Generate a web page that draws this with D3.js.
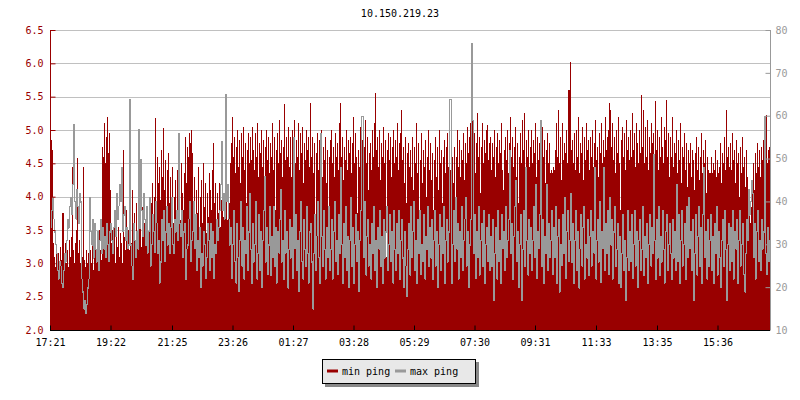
<!DOCTYPE html>
<html>
<head>
<meta charset="utf-8">
<script src="https://cdn.jsdelivr.net/npm/d3@7"></script>
<style>
  body { margin: 0; background: #fff; }
  svg text { font-family: "DejaVu Sans Mono", monospace; font-size: 10px; }
</style>
</head>
<body>
<div id="chart"></div>
<script>
// ping samples, one every 2 minutes starting at 17:21
const title = "10.150.219.23";
const startTime = "17:21";
const stepMinutes = 2;
const spanMinutes = 1440;

const xTickLabels = ["17:21", "19:22", "21:25", "23:26", "01:27", "03:28", "05:29", "07:30", "09:31", "11:33", "13:35", "15:36"];
const leftTicks = [2.0, 2.5, 3.0, 3.5, 4.0, 4.5, 5.0, 5.5, 6.0, 6.5];
const rightTicks = [10, 20, 30, 40, 50, 60, 70, 80];
const seriesNames = ["min ping", "max ping"];

// min ping (ms, left axis)
const minPing = [
  4.85, 4.85, 4.7, 3.3, 3.1, 2.95, 3.2, 3.0, 3.15, 2.9, 3.25, 3.05, 3.75, 3.75, 3.1, 3.3, 3.0, 3.2, 2.95, 3.35,
  3.1, 3.4, 4.45, 3.2, 3.0, 3.3, 3.5, 4.58, 3.15, 3.35, 3.0, 3.2, 3.1, 4.45, 3.05, 2.95, 3.2, 3.0, 3.15, 2.9,
  3.2, 3.0, 3.35, 2.9, 3.1, 3.45, 3.0, 3.3, 3.15, 3.5, 3.2, 3.05, 4.75, 4.6, 5.1, 4.5, 4.9, 5.2, 4.65, 4.95,
  4.1, 3.3, 3.5, 3.15, 3.6, 3.0, 3.4, 3.25, 3.55, 3.1, 3.45, 3.3, 3.0, 4.7, 3.4, 3.2, 3.8, 3.35, 3.5, 3.2,
  3.6, 3.3, 4.1, 3.5, 3.75, 3.2, 3.9, 3.45, 3.3, 3.7, 3.55, 3.25, 3.85, 3.4, 3.6, 3.3, 3.5, 3.85, 3.35, 3.65,
  3.5, 3.9, 4.2, 3.7, 4.0, 5.18, 3.9, 4.6, 4.2, 4.45, 3.95, 4.7, 4.3, 5.03, 4.1, 4.55, 3.8, 4.4, 4.65, 3.9,
  4.3, 3.7, 4.45, 3.6, 4.0, 4.25, 3.55, 4.4, 3.9, 4.15, 3.65, 4.5, 4.05, 3.8, 4.35, 4.9, 4.2, 4.75, 4.6, 4.95,
  4.8, 5.0, 4.65, 3.9, 4.3, 3.5, 4.1, 3.75, 4.45, 3.4, 4.0, 4.25, 3.6, 4.5, 3.85, 4.2, 3.45, 4.05, 3.7, 4.35,
  4.1, 3.8, 4.4, 4.8, 3.9, 4.2, 3.6, 4.05, 3.75, 4.2, 3.55, 3.95, 4.15, 3.7, 4.0, 3.85, 4.25, 3.65, 4.1, 3.9,
  4.5, 4.8, 5.2, 4.6, 4.9, 4.35, 4.75, 5.0, 4.45, 4.85, 4.2, 4.95, 4.6, 5.05, 4.4, 4.8, 3.9, 4.7, 4.95, 4.5,
  4.9, 4.55, 5.05, 4.7, 4.4, 4.95, 4.6, 5.1, 4.3, 4.8, 4.65, 5.0, 4.45, 4.85, 4.15, 4.75, 5.0, 4.55, 4.9, 4.35,
  4.8, 4.6, 5.1, 4.4, 4.9, 3.8, 4.7, 4.95, 4.5, 5.15, 4.65, 4.85, 4.3, 4.75, 5.39, 4.55, 4.9, 4.6, 5.05, 4.45,
  4.9, 4.3, 5.0, 4.7, 5.15, 4.5, 4.85, 4.6, 5.1, 4.4, 4.95, 4.65, 5.05, 4.2, 4.8, 4.55, 5.0, 4.7, 4.9, 4.45,
  5.4, 4.6, 4.9, 4.35, 4.8, 3.7, 4.65, 4.95, 4.4, 4.85, 4.6, 5.0, 4.3, 4.75, 4.55, 4.9, 4.2, 4.7, 3.6, 4.6,
  4.85, 5.0, 4.5, 4.75, 4.3, 4.95, 4.6, 4.8, 4.4, 5.1, 5.4, 4.6, 4.9, 4.25, 4.75, 4.55, 5.0, 4.4, 4.85, 4.65,
  4.9, 4.35, 4.8, 5.2, 4.5, 4.95, 4.6, 3.75, 4.7, 4.45, 5.05, 4.6, 4.85, 4.3, 4.75, 5.15, 4.5, 4.9, 4.1, 4.65,
  4.8, 4.4, 5.0, 4.6, 5.1, 5.55, 4.7, 4.9, 4.45, 5.0, 4.25, 4.8, 4.6, 5.05, 4.5, 4.85, 3.1, 4.7, 4.95, 4.55,
  4.9, 4.3, 4.75, 5.0, 4.5, 4.85, 4.6, 5.1, 4.4, 4.8, 4.95, 5.3, 4.55, 4.75, 4.2, 4.9, 3.9, 4.65, 4.8, 4.45,
  4.7, 4.3, 4.9, 4.1, 4.75, 4.5, 5.1, 4.35, 4.8, 3.7, 4.55, 4.95, 4.2, 4.7, 4.45, 4.85, 4.0, 4.6, 5.0, 4.4,
  4.8, 4.25, 4.65, 3.8, 4.55, 4.9, 4.3, 4.75, 4.1, 5.0, 4.5, 4.7, 3.9, 4.6, 4.85, 4.35, 4.75, 4.95, 4.45, 4.7,
  4.4, 4.9, 4.6, 4.2, 4.75, 3.5, 4.6, 5.0, 4.45, 4.85, 4.3, 4.7, 4.55, 4.95, 4.25, 4.8, 4.5, 5.05, 4.65, 4.9,
  5.1, 4.7, 5.2, 4.5, 4.95, 4.35, 4.8, 5.25, 4.6, 4.9, 4.05, 4.75, 5.1, 4.5, 4.85, 4.65, 5.0, 5.07, 4.55, 4.8,
  4.9, 4.4, 4.8, 4.6, 5.0, 4.3, 4.75, 4.95, 4.5, 4.85, 4.65, 5.1, 4.4, 4.1, 4.7, 4.9, 4.55, 5.0, 4.35, 4.8,
  5.2, 4.6, 4.9, 4.45, 4.75, 5.05, 4.3, 4.8, 3.9, 4.6, 4.95, 4.5, 5.15, 4.7, 5.25, 4.4, 4.85, 4.6, 5.0, 4.45,
  4.75, 5.0, 4.5, 4.85, 4.65, 5.1, 4.3, 4.9, 4.55, 4.8, 4.95, 4.4, 5.05, 4.6, 4.85, 4.2, 4.7, 4.95, 4.5, 4.8,
  4.35, 4.4, 4.35, 4.45, 4.4, 4.7, 5.1, 4.6, 5.3, 4.5, 4.9, 4.25, 5.1, 4.55, 4.8, 4.65, 5.0, 4.5, 5.6, 5.6,
  6.02, 4.7, 4.85, 4.5, 4.95, 4.4, 5.0, 4.6, 5.2, 4.35, 4.8, 4.65, 5.05, 4.25, 4.9, 4.55, 5.1, 4.7, 4.85, 4.4,
  4.9, 4.6, 5.0, 4.45, 4.8, 5.15, 4.55, 4.75, 4.3, 4.95, 4.65, 5.1, 4.5, 4.85, 4.6, 5.2, 4.7, 4.9, 5.0, 5.4,
  5.3, 4.75, 5.1, 4.55, 4.9, 4.35, 5.0, 4.65, 5.2, 4.5, 3.8, 4.85, 5.05, 4.6, 4.95, 4.4, 5.15, 4.7, 4.9, 4.55,
  5.0, 4.6, 5.25, 4.7, 4.95, 4.45, 5.1, 4.8, 4.5, 5.0, 4.65, 5.52, 4.75, 5.3, 4.5, 5.05, 4.6, 5.15, 4.4, 4.9,
  4.65, 5.1, 4.8, 4.95, 4.55, 5.43, 4.7, 5.0, 4.4, 4.9, 4.6, 5.2, 4.75, 4.5, 5.05, 4.85, 5.45, 4.6, 4.95, 4.3,
  4.9, 4.6, 5.2, 4.45, 4.8, 4.65, 5.0, 4.35, 4.85, 4.55, 5.1, 4.2, 4.75, 4.6, 4.95, 4.4, 4.8, 4.15, 4.7, 4.5,
  4.8, 4.3, 4.7, 4.55, 4.1, 4.65, 4.9, 4.4, 4.75, 4.25, 4.6, 4.95, 4.35, 4.7, 4.5, 4.85, 4.05, 4.6, 4.4, 4.35,
  4.35, 4.6, 4.35, 4.5, 4.4, 4.7, 4.3, 4.55, 4.35, 4.45, 4.8, 4.2, 4.65, 4.5, 4.9, 4.4, 5.3, 4.6, 4.75, 4.45,
  4.8, 4.4, 4.95, 4.55, 4.7, 4.2, 4.85, 4.5, 4.65, 4.0, 4.75, 4.35, 4.9, 4.45, 4.6, 4.15, 4.7, 4.3, 3.7, 3.9,
  3.6, 3.85, 4.2, 4.5, 4.1, 4.65, 4.35, 4.8, 4.45, 4.7, 4.3, 4.75, 4.55, 4.85, 4.4, 4.6, 5.22, 4.5, 4.7, 4.75
];

// max ping (ms, right axis)
const maxPing = [
  34, 38, 41, 36, 33, 30, 28, 24, 22, 26, 25, 21, 20, 24, 28, 26, 31, 36, 34, 39,
  41, 37, 44, 58, 40, 36, 43, 39, 35, 42, 40, 22, 19, 15, 17, 14, 16, 20, 22, 41,
  33, 30, 36, 27, 35, 29, 26, 33, 24, 31, 36, 28, 34, 29, 32, 27, 35, 30, 26, 33,
  35, 31, 28, 34, 38, 32, 42, 36, 39, 44, 40, 48, 33, 37, 39, 31, 34, 29, 30, 64,
  30, 25, 22, 35, 31, 27, 33, 29, 57, 34, 50, 38, 32, 42, 36, 30, 39, 28, 33, 41,
  25, 30, 37, 33, 28, 40, 35, 28, 31, 21, 26, 36, 31, 38, 26, 33, 39, 30, 35, 28,
  34, 41, 30, 28, 36, 33, 38, 31, 56, 35, 32, 38, 27, 33, 35, 22, 29, 30, 36, 40,
  26, 31, 33, 40, 29, 37, 24, 31, 27, 34, 20, 28, 25, 33, 30, 22, 27, 35, 31, 24,
  35, 27, 33, 22, 30, 28, 36, 31, 34, 38, 44, 54, 38, 42, 36, 65, 40, 44, 36, 30,
  34, 22, 30, 38, 26, 21, 35, 27, 19, 31, 40, 25, 34, 22, 31, 28, 39, 24, 33, 42,
  29, 21, 35, 26, 30, 40, 22, 28, 37, 24, 33, 20, 31, 38, 46, 26, 34, 23, 30, 39,
  23, 32, 27, 39, 25, 34, 21, 33, 28, 36, 43, 26, 31, 22, 38, 28, 33, 20, 29, 36,
  27, 34, 22, 55, 29, 37, 24, 31, 19, 33, 40, 26, 22, 36, 29, 25, 39, 28, 21, 33,
  35, 26, 15, 28, 37, 24, 32, 40, 27, 21, 56, 32, 25, 38, 29, 22, 34, 27, 39, 24,
  29, 36, 22, 33, 40, 26, 31, 23, 37, 28, 48, 30, 21, 35, 27, 39, 24, 32, 20, 31,
  41, 25, 34, 21, 30, 37, 26, 33, 19, 31, 38, 60, 60, 27, 40, 23, 32, 36, 25, 30,
  22, 35, 28, 39, 24, 31, 20, 34, 29, 38, 25, 32, 21, 36, 27, 33, 39, 24, 30, 37,
  26, 33, 21, 38, 29, 24, 35, 28, 38, 22, 31, 36, 27, 20, 33, 25, 18, 29, 35, 23,
  39, 27, 33, 40, 24, 31, 21, 36, 28, 38, 23, 30, 26, 37, 22, 32, 29, 39, 25, 34,
  27, 36, 22, 31, 38, 25, 33, 20, 30, 37, 24, 34, 28, 39, 21, 31, 36, 26, 33, 64,
  64, 21, 30, 38, 26, 41, 29, 35, 22, 33, 27, 39, 24, 31, 36, 41, 25, 33, 20, 30,
  36, 77, 59, 28, 37, 22, 33, 27, 39, 23, 31, 35, 25, 38, 21, 30, 34, 26, 37, 24,
  32, 25, 36, 17, 28, 34, 22, 38, 26, 31, 21, 37, 29, 33, 24, 39, 27, 31, 36, 52,
  28, 35, 22, 32, 39, 45, 26, 33, 20, 30, 37, 17, 29, 38, 25, 48, 31, 23, 36, 28,
  34, 24, 31, 39, 27, 44, 22, 33, 29, 37, 59, 25, 36, 21, 32, 28, 44, 24, 35, 27,
  31, 38, 23, 34, 27, 39, 21, 32, 36, 19, 30, 25, 37, 28, 41, 22, 33, 38, 26, 31,
  42, 26, 35, 21, 31, 38, 24, 33, 20, 29, 37, 25, 34, 39, 22, 30, 27, 36, 23, 32,
  38, 25, 33, 28, 48, 22, 31, 36, 26, 40, 21, 33, 29, 48, 24, 35, 28, 38, 23, 41,
  30, 36, 22, 33, 39, 25, 29, 35, 21, 32, 20, 28, 37, 24, 31, 17, 27, 38, 24, 33,
  26, 37, 22, 30, 38, 25, 33, 20, 31, 36, 24, 29, 39, 23, 32, 27, 35, 21, 30, 37,
  25, 34, 28, 51, 31, 22, 36, 27, 39, 23, 32, 26, 38, 29, 21, 33, 37, 24, 30, 35,
  28, 22, 36, 27, 33, 24, 44, 26, 37, 21, 31, 38, 25, 30, 35, 22, 39, 27, 41, 29,
  33, 24, 36, 17, 28, 37, 23, 32, 39, 25, 34, 21, 37, 48, 27, 33, 22, 36, 25, 31,
  37, 24, 32, 21, 35, 28, 39, 23, 33, 27, 20, 31, 36, 25, 38, 29, 17, 30, 35, 24,
  34, 26, 38, 22, 33, 29, 36, 21, 31, 38, 25, 30, 35, 23, 19, 28, 36, 31, 43, 37,
  40, 45, 42, 27, 35, 22, 33, 38, 26, 31, 24, 36, 29, 33, 60, 28, 23, 34, 26, 31
];

const width = 800, height = 400;
const margin = { top: 30, right: 30, bottom: 70, left: 50 };
const red = "#990000", grey = "#999999";

const parseHM = d3.timeParse("%Y-%m-%d %H:%M");
const t0 = parseHM("2000-01-01 " + startTime);
const t1 = d3.timeMinute.offset(t0, spanMinutes);

// tick labels -> dates (wrap past midnight)
const tickDates = xTickLabels.map(function(l) {
  let d = parseHM("2000-01-01 " + l);
  if (d < t0) d = d3.timeDay.offset(d, 1);
  return d;
});

const svg = d3.select("#chart").append("svg")
  .attr("width", width).attr("height", height);

const x = d3.scaleTime().domain([t0, t1]).range([margin.left, width - margin.right]);
const yL = d3.scaleLinear().domain([2, 6.5]).range([height - margin.bottom, margin.top]);
const yR = d3.scaleLinear().domain([10, 80]).range([height - margin.bottom, margin.top]);

// title
svg.append("text").attr("x", width / 2).attr("y", 17)
  .attr("text-anchor", "middle").attr("fill", "#000").text(title);

// grid
svg.append("g").selectAll("line").data(leftTicks.slice(1)).join("line")
  .attr("x1", margin.left).attr("x2", width - margin.right)
  .attr("y1", d => Math.round(yL(d)) + 0.5).attr("y2", d => Math.round(yL(d)) + 0.5)
  .attr("stroke", "#c0c0c0").attr("stroke-width", 1);

const tAt = i => d3.timeMinute.offset(t0, i * stepMinutes);

// min ping bars
svg.append("g").attr("shape-rendering", "crispEdges")
  .selectAll("rect").data(minPing).join("rect")
  .attr("x", (d, i) => x(tAt(i)))
  .attr("width", (d, i) => x(tAt(i + 1)) - x(tAt(i)))
  .attr("y", d => yL(d))
  .attr("height", d => yL(2) - yL(d))
  .attr("fill", red);

// max ping line: one vertical stroke per sample, from previous value to this one
svg.append("g").attr("shape-rendering", "crispEdges")
  .selectAll("rect").data(maxPing).join("rect")
  .attr("x", (d, i) => x(tAt(i)))
  .attr("width", (d, i) => x(tAt(i + 1)) - x(tAt(i)))
  .attr("y", (d, i) => Math.round(yR(Math.max(d, i ? maxPing[i - 1] : d))))
  .attr("height", (d, i) => Math.abs(yR(d) - yR(i ? maxPing[i - 1] : d)) + 1)
  .attr("fill", grey);

// left axis
const gL = svg.append("g").attr("transform", `translate(${margin.left + 0.5},0)`);
gL.call(d3.axisLeft(yL).tickValues(d3.range(2, 6.51, 0.1)).tickSize(-3).tickFormat(""));
gL.call(d3.axisLeft(yL).tickValues(leftTicks).tickSize(-5).tickPadding(7).tickFormat(d3.format(".1f")));
gL.selectAll("path, line").attr("stroke", red);
gL.selectAll("text").attr("fill", red).style("font-size", "10px").style("font-family", "DejaVu Sans Mono");
gL.selectAll(".domain").attr("d", `M0,${yL(6.5)}V${yL(2)}`);

// right axis
const gR = svg.append("g").attr("transform", `translate(${width - margin.right + 0.5},0)`);
gR.call(d3.axisRight(yR).tickValues(d3.range(15, 80, 10)).tickSize(-3).tickFormat(""));
gR.call(d3.axisRight(yR).tickValues(rightTicks).tickSize(-5).tickPadding(5));
gR.selectAll("path, line").attr("stroke", grey);
gR.selectAll("text").attr("fill", grey).style("font-size", "10px").style("font-family", "DejaVu Sans Mono");
gR.selectAll(".domain").attr("d", `M0,${yR(80)}V${yR(10)}`);

// bottom axis
const gB = svg.append("g").attr("transform", `translate(0,${height - margin.bottom + 0.5})`);
gB.call(d3.axisBottom(x).tickValues(tickDates).tickSize(-5).tickPadding(8).tickFormat(d3.timeFormat("%H:%M")));
gB.selectAll("path, line").attr("stroke", "#000");
gB.select(".domain").attr("d", `M${margin.left},0H${width - margin.right}`);
gB.selectAll("text").attr("fill", "#000").style("font-size", "10px").style("font-family", "DejaVu Sans Mono");

// legend
const lg = svg.append("g").attr("transform", "translate(322,359)");
lg.append("rect").attr("x", 3).attr("y", 3).attr("width", 154).attr("height", 25).attr("fill", "#888");
lg.append("rect").attr("x", 0.5).attr("y", 0.5).attr("width", 153).attr("height", 24)
  .attr("fill", "#e8e8e8").attr("stroke", "#000");
const colors = [red, grey];
const items = lg.selectAll("g.item").data(seriesNames).join("g")
  .attr("transform", (d, i) => `translate(${5 + i * 68},12)`);
items.append("line").attr("x1", 0).attr("x2", 11).attr("y1", 0).attr("y2", 0)
  .attr("stroke", (d, i) => colors[i]).attr("stroke-width", 3);
items.append("text").attr("x", 15).attr("y", 0).attr("dy", "0.35em")
  .attr("fill", "#000").text(d => d);
</script>
</body>
</html>
